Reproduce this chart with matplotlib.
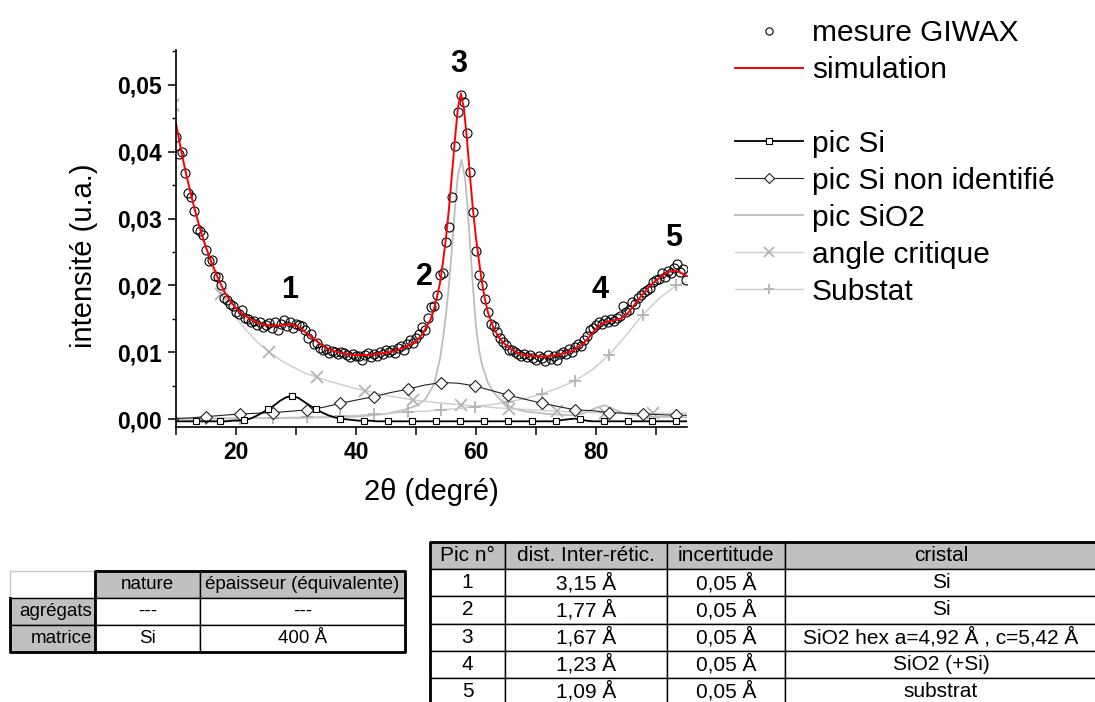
import numpy as np
import matplotlib
matplotlib.use("Agg")
import matplotlib.pyplot as plt
from matplotlib.lines import Line2D
from matplotlib.ticker import MultipleLocator, FuncFormatter

plt.rcParams['font.family'] = ['Liberation Sans', 'DejaVu Sans']

# mesure GIWAX (pas de 0.5 deg)
mes_x = np.arange(10.0, 95.01, 0.5)
mes_y = [0.0422, 0.0396, 0.0399, 0.0368, 0.0338, 0.0332, 0.0311, 0.0284, 0.0281, 0.0276,
         0.0253, 0.0236, 0.0238, 0.0214, 0.0212, 0.0200, 0.0182, 0.0178, 0.0172, 0.0169,
         0.0160, 0.0158, 0.0164, 0.0152, 0.0150, 0.0145, 0.0147, 0.0141, 0.0145, 0.0138,
         0.0141, 0.0144, 0.0137, 0.0146, 0.0133, 0.0142, 0.0148, 0.0139, 0.0145, 0.0137,
         0.0143, 0.0141, 0.0140, 0.0133, 0.0122, 0.0127, 0.0113, 0.0114, 0.0107, 0.0103,
         0.0105, 0.0099, 0.0102, 0.0100, 0.0097, 0.0101, 0.0099, 0.0096, 0.0093, 0.0097,
         0.0095, 0.0094, 0.0089, 0.0096, 0.0099, 0.0093, 0.0097, 0.0095, 0.0100, 0.0098,
         0.0104, 0.0101, 0.0104, 0.0099, 0.0106, 0.0109, 0.0104, 0.0113, 0.0118, 0.0114,
         0.0121, 0.0128, 0.0138, 0.0133, 0.0151, 0.0168, 0.0170, 0.0186, 0.0216, 0.0219,
         0.0265, 0.0288, 0.0333, 0.0408, 0.0460, 0.0485, 0.0475, 0.0428, 0.0370, 0.0310,
         0.0252, 0.0216, 0.0201, 0.0180, 0.0160, 0.0143, 0.0140, 0.0130, 0.0121, 0.0115,
         0.0111, 0.0103, 0.0104, 0.0100, 0.0098, 0.0095, 0.0097, 0.0093, 0.0096, 0.0091,
         0.0089, 0.0094, 0.0092, 0.0087, 0.0096, 0.0090, 0.0094, 0.0088, 0.0097, 0.0100,
         0.0098, 0.0105, 0.0101, 0.0108, 0.0112, 0.0110, 0.0118, 0.0124, 0.0133, 0.0137,
         0.0141, 0.0146, 0.0143, 0.0148, 0.0145, 0.0150, 0.0147, 0.0152, 0.0155, 0.0170,
         0.0160, 0.0164, 0.0176, 0.0172, 0.0181, 0.0186, 0.0190, 0.0194, 0.0197, 0.0205,
         0.0208, 0.0210, 0.0218, 0.0213, 0.0222, 0.0219, 0.0226, 0.0232, 0.0220, 0.0224,
         0.0208]

# simulation
sim_x = [10, 11, 12, 13, 14, 15, 16, 17, 18, 19, 20, 21, 22, 23, 24, 25, 26, 27, 28, 29,
         30, 31, 32, 33, 34, 35, 36, 38, 40, 42, 44, 46, 48, 50, 51, 52,
         52.5, 53, 53.5, 54, 54.5, 55, 55.5, 56, 56.5, 57, 57.5, 58, 58.5, 59, 59.5,
         60, 60.5, 61, 61.5, 62, 63, 64, 65, 66, 67, 68, 70, 72, 74, 76,
         77, 78, 79, 80, 81, 82, 83, 84, 85, 86, 87, 88, 89, 90, 91, 92, 93, 94, 95]
sim_y = [0.0442, 0.0395, 0.0355, 0.0318, 0.0285, 0.0257, 0.0233, 0.0211, 0.0192, 0.0177,
         0.0166, 0.0158, 0.0152, 0.0147, 0.0143, 0.0141, 0.0140, 0.0140, 0.0141, 0.0142,
         0.0140, 0.0134, 0.0127, 0.0120, 0.0113, 0.0107, 0.0103, 0.0098, 0.0096, 0.0096,
         0.0098, 0.0101, 0.0107, 0.0116, 0.0126, 0.0142,
         0.0150, 0.0164, 0.0182, 0.0203, 0.0234, 0.0270, 0.0314, 0.0365, 0.0418, 0.0465,
         0.0487, 0.0465, 0.0420, 0.0365, 0.0315,
         0.0272, 0.0238, 0.0205, 0.0180, 0.0160, 0.0135, 0.0120, 0.0111, 0.0104, 0.0099,
         0.0096, 0.0094, 0.0094, 0.0097, 0.0102,
         0.0107, 0.0114, 0.0124, 0.0135, 0.0143, 0.0146, 0.0148, 0.0150, 0.0155, 0.0166,
         0.0178, 0.0189, 0.0199, 0.0207, 0.0214, 0.0220, 0.0222, 0.0220, 0.0215]

# pic Si (pas de 1 deg a partir de 9.4)
si_x = np.arange(9.4, 95.41, 1.0)
si_y = [-0.0003, -0.0003, -0.0003, -0.0003, -0.0003, -0.0003, -0.0003, -0.0003, -0.0003, -0.0003,
        -0.0002, -0.0002, -0.0001, 0.0001, 0.0005, 0.0010, 0.0015, 0.0021, 0.0028, 0.0033,
        0.0035, 0.0032, 0.0026, 0.0020, 0.0015, 0.0010, 0.0006, 0.0003, 0.0001, 0.0000,
        -0.0001, -0.0002, -0.0002, -0.0002, -0.0003, -0.0003, -0.0003, -0.0003, -0.0003, -0.0003,
        -0.0003, -0.0003, -0.0003, -0.0003, -0.0003, -0.0003, -0.0003, -0.0003, -0.0003, -0.0003,
        -0.0003, -0.0003, -0.0003, -0.0003, -0.0003, -0.0003, -0.0003, -0.0003, -0.0003, -0.0003,
        -0.0003, -0.0003, -0.0003, -0.0003, -0.0003, -0.0001, 0.0000, 0.0001, 0.0000, -0.0002,
        -0.0003, -0.0003, -0.0003, -0.0003, -0.0003, -0.0003, -0.0003, -0.0003, -0.0003, -0.0003,
        -0.0003, -0.0003, -0.0003, -0.0003, -0.0003, -0.0003, -0.0003]

# pic Si non identifie et Substat (pas de 2.8 deg a partir de 9.4)
grid28_x = np.arange(9.4, 96.3, 2.8)
nonid_y = [0.0001, 0.0002, 0.0004, 0.0006, 0.0008, 0.0009, 0.0010, 0.0012, 0.0014, 0.0018,
           0.0024, 0.0029, 0.0034, 0.0040, 0.0045, 0.0051, 0.0055, 0.0054, 0.0050, 0.0043,
           0.0036, 0.0030, 0.0024, 0.0019, 0.0014, 0.0013, 0.0010, 0.0009, 0.0008, 0.0007,
           0.0006, 0.0006]
subst_y = [0.0000, 0.0000, 0.0001, 0.0001, 0.0001, 0.0002, 0.0002, 0.0003, 0.0003, 0.0004,
           0.0005, 0.0006, 0.0008, 0.0009, 0.0011, 0.0012, 0.0014, 0.0016, 0.0019, 0.0022,
           0.0026, 0.0031, 0.0038, 0.0047, 0.0058, 0.0074, 0.0096, 0.0125, 0.0156, 0.0181,
           0.0200, 0.0208]

# pic SiO2
sio2_x = [10, 30, 40, 45, 48, 50, 51.5, 53, 54, 54.5, 55, 55.5, 56, 56.5, 57, 57.6, 58.2,
          58.6, 59, 59.5, 60, 60.5, 61, 62, 63, 64, 66, 68, 72, 76, 78, 80, 81.5, 83, 85, 88, 95.5]
sio2_y = [0.0001, 0.0002, 0.0004, 0.0008, 0.0014, 0.0020, 0.0029, 0.0052, 0.0090, 0.0120,
          0.0155, 0.0200, 0.0255, 0.0315, 0.0365, 0.0388, 0.0360, 0.0318, 0.0265, 0.0200,
          0.0140, 0.0105, 0.0082, 0.0055, 0.0040, 0.0030, 0.0017, 0.0012, 0.0008, 0.0006,
          0.0009, 0.0017, 0.0021, 0.0015, 0.0008, 0.0004, 0.0003]

# angle critique (pas de 2 deg a partir de 9.5)
crit_x = np.arange(9.5, 95.6, 2.0)
crit_y = [0.0470, 0.0370, 0.0300, 0.0240, 0.0188, 0.0158, 0.0135, 0.0116, 0.0101, 0.0088,
          0.0078, 0.0069, 0.0063, 0.0057, 0.0052, 0.0047, 0.0043, 0.0039, 0.0035, 0.0032,
          0.0029, 0.0027, 0.0025, 0.0023, 0.0022, 0.0020, 0.0019, 0.0017, 0.0016, 0.0015,
          0.0014, 0.0013, 0.0012, 0.0011, 0.0011, 0.0010, 0.0010, 0.0010, 0.0009, 0.0009,
          0.0009, 0.0009, 0.0009, 0.0009]

peak_labels = ['1', '2', '3', '4', '5']
peak_pos = [(29, 0.0193), (51.4, 0.0213), (57.2, 0.0531), (80.7, 0.0193), (93, 0.0271)]

# tableaux
t1_cols = ['', 'nature', 'épaisseur (équivalente)']
t1_rows = ['agrégats', 'matrice']
t1_nature = ['---', 'Si']
t1_epaisseur = ['---', '400 Å']

t2_cols = ['Pic n°', 'dist. Inter-rétic.', 'incertitude', 'cristal']
t2_pic = ['1', '2', '3', '4', '5']
t2_dist = ['3,15 Å', '1,77 Å', '1,67 Å', '1,23 Å', '1,09 Å']
t2_incert = ['0,05 Å', '0,05 Å', '0,05 Å', '0,05 Å', '0,05 Å']
t2_cristal = ['Si', 'Si', 'SiO2 hex a=4,92 Å , c=5,42 Å', 'SiO2 (+Si)', 'substrat']

W, H = 1095, 702
fig = plt.figure(figsize=(W / 100, H / 100), dpi=100)
ax = fig.add_axes([176 / W, 1 - 427 / H, 511 / W, 377 / H])

l_sio2, = ax.plot(sio2_x, sio2_y, color='#bdbdbd', lw=1.3, label='pic SiO2')
l_crit, = ax.plot(crit_x, crit_y, color='#cccccc', lw=1.0, marker='x', markevery=4,
                  ms=9, mec='#b4b4b4', mew=1.3, label='angle critique')
l_sub, = ax.plot(grid28_x, subst_y, color='#cccccc', lw=1.0, marker='+', markevery=2,
                 ms=9, mec='#b4b4b4', mew=1.3, label='Substat')
l_non, = ax.plot(grid28_x, nonid_y, color='#222222', lw=0.8, marker='D', markevery=2,
                 ms=6.5, mfc='white', mec='#222222', mew=0.8, label='pic Si non identifié')
l_si, = ax.plot(si_x, si_y, color='black', lw=1.3, marker='s', markevery=4,
                ms=5, mfc='white', mec='black', mew=0.8, label='pic Si')
l_mes, = ax.plot(mes_x, mes_y, ls='none', marker='o', ms=6.5, mfc='none', mec='black',
                 mew=0.8, label='mesure GIWAX')
l_sim, = ax.plot(sim_x, sim_y, color='#ff0000', lw=1.4, label='simulation')

for lab, (px, py) in zip(peak_labels, peak_pos):
    ax.text(px, py, lab, fontsize=22, fontweight='bold', ha='center', va='center')

ax.set_xlim(10, 95.2)
ax.set_ylim(-0.00115, 0.0552)
for s in ['top', 'right']:
    ax.spines[s].set_visible(False)
for s in ['left', 'bottom']:
    ax.spines[s].set_linewidth(1.2)

ax.xaxis.set_major_locator(MultipleLocator(20))
ax.xaxis.set_minor_locator(MultipleLocator(10))
ax.yaxis.set_major_locator(MultipleLocator(0.01))
ax.yaxis.set_minor_locator(MultipleLocator(0.005))
ax.yaxis.set_major_formatter(FuncFormatter(lambda v, p: f"{v:.2f}".replace('.', ',')))
ax.tick_params(axis='x', which='both', direction='out', length=6, width=1.1)
ax.tick_params(axis='y', which='major', direction='out', length=6, width=1.1)
ax.tick_params(axis='y', which='minor', direction='out', length=3, width=1.0)
ax.tick_params(which='major', labelsize=16.5, pad=4)
for t in ax.get_xticklabels() + ax.get_yticklabels():
    t.set_fontweight('bold')

ax.set_xlabel('2θ (degré)', fontsize=21)
ax.set_ylabel('intensité (u.a.)', fontsize=21)
ax.xaxis.set_label_coords(0.5, -0.135)
ax.xaxis.label.set_va('top')
ax.yaxis.set_label_coords(-0.153, 0.454)

blank = Line2D([], [], ls='none', label=' ')
fig.legend(handles=[l_mes, l_sim, blank, l_si, l_non, l_sio2, l_crit, l_sub],
           loc='upper left', bbox_to_anchor=(735 / W, 1 - 19 / H), frameon=False,
           fontsize=21.5, borderpad=0, borderaxespad=0, handlelength=2.27,
           handletextpad=0.3, labelspacing=0.3, numpoints=1, markerscale=0.8)

gray = '#c0c0c0'

# tableau 1
tax1 = fig.add_axes([10 / W, 1 - 652 / H, 395 / W, 81 / H])
tax1.axis('off')
cells1 = [t1_cols] + [[r, n, e] for r, n, e in zip(t1_rows, t1_nature, t1_epaisseur)]
tab1 = tax1.table(cellText=cells1, colWidths=[85, 105, 205], cellLoc='center',
                  bbox=[0, 0, 1, 1])
tab1.auto_set_font_size(False)
tab1.set_fontsize(13.5)
for (r, c), cell in tab1.get_celld().items():
    cell.set_linewidth(1.0)
    cell.set_edgecolor('black')
    if r == 0 and c == 0:
        cell.set_facecolor('white')
        cell.set_edgecolor('#c8c8c8')
    elif r == 0 or c == 0:
        cell.set_facecolor(gray)
    else:
        cell.set_facecolor('white')
    if c == 0 and r > 0:
        cell.get_text().set_ha('right')
        cell.PAD = 0.03
tax1.plot([0, 0, 1, 1, 85 / 395, 85 / 395], [2 / 3, 0, 0, 1, 1, 0], color='black', lw=2,
          transform=tax1.transAxes, clip_on=False)

# tableau 2
tax2 = fig.add_axes([430 / W, 1 - 705 / H, 667 / W, 163 / H])
tax2.axis('off')
cells2 = [t2_cols] + [list(r) for r in zip(t2_pic, t2_dist, t2_incert, t2_cristal)]
tab2 = tax2.table(cellText=cells2, colWidths=[75, 162, 118, 312], cellLoc='center',
                  bbox=[0, 0, 1, 1])
tab2.auto_set_font_size(False)
tab2.set_fontsize(15)
for (r, c), cell in tab2.get_celld().items():
    cell.set_linewidth(1.0)
    cell.set_edgecolor('black')
    cell.set_facecolor(gray if r == 0 else 'white')
tax2.plot([0, 0, 1], [0, 1, 1], color='black', lw=2, transform=tax2.transAxes, clip_on=False)

fig.savefig('out.png', dpi=100)
